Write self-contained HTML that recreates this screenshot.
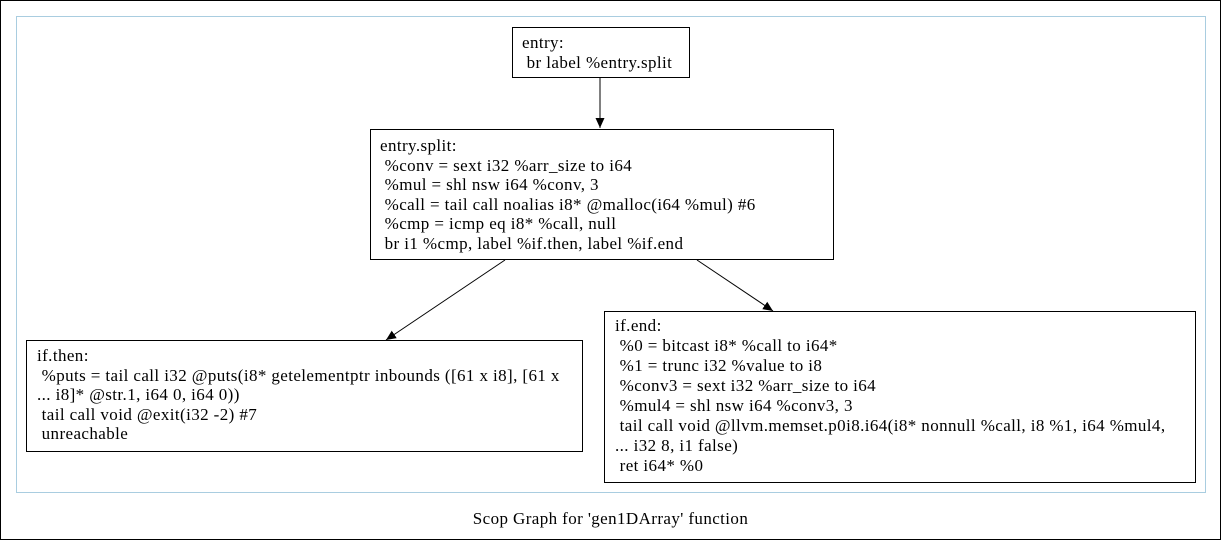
<!DOCTYPE html>
<html><head><style>
body{margin:0;width:1221px;height:540px;background:#fff;position:relative;overflow:hidden;font-family:"Liberation Serif",serif;font-size:17px;letter-spacing:0.4px;color:#000}
.b{position:absolute;border:1px solid #000;box-sizing:border-box;background:#fff}
.t{position:absolute;white-space:pre;line-height:19.5px}
</style></head><body>
<div style="position:absolute;left:0;top:0;width:1221px;height:540px;border:1px solid #000;box-sizing:border-box"></div>
<div style="position:absolute;left:16px;top:16px;width:1190px;height:477px;border:1px solid #a9cde0;box-sizing:border-box"></div>
<svg width="1221" height="540" style="position:absolute;left:0;top:0">
<defs><marker id="a" markerWidth="10" markerHeight="10" refX="10" refY="5" orient="auto" markerUnits="userSpaceOnUse"><path d="M0,0.5L10,5L0,9.5z" fill="#000"/></marker></defs>
<line x1="600" y1="77" x2="600" y2="128" stroke="#000" marker-end="url(#a)"/>
<line x1="505" y1="260" x2="386" y2="340" stroke="#000" marker-end="url(#a)"/>
<line x1="697" y1="260" x2="773" y2="311" stroke="#000" marker-end="url(#a)"/>
</svg>
<div class="b" style="left:512px;top:27px;width:178px;height:51px"></div>
<div class="t" style="left:522px;top:33px">entry:
 br label %entry.split</div>
<div class="b" style="left:370px;top:129px;width:464px;height:131px"></div>
<div class="t" style="left:380px;top:136px">entry.split:
 %conv = sext i32 %arr_size to i64
 %mul = shl nsw i64 %conv, 3
 %call = tail call noalias i8* @malloc(i64 %mul) #6
 %cmp = icmp eq i8* %call, null
 br i1 %cmp, label %if.then, label %if.end</div>
<div class="b" style="left:26px;top:340px;width:557px;height:112px"></div>
<div class="t" style="left:37px;top:346px">if.then:
 %puts = tail call i32 @puts(i8* getelementptr inbounds ([61 x i8], [61 x
... i8]* @str.1, i64 0, i64 0))
 tail call void @exit(i32 -2) #7
 unreachable</div>
<div class="b" style="left:604px;top:311px;width:592px;height:172px"></div>
<div class="t" style="left:615px;top:316px;line-height:20px">if.end:
 %0 = bitcast i8* %call to i64*
 %1 = trunc i32 %value to i8
 %conv3 = sext i32 %arr_size to i64
 %mul4 = shl nsw i64 %conv3, 3
 tail call void @llvm.memset.p0i8.i64(i8* nonnull %call, i8 %1, i64 %mul4,
... i32 8, i1 false)
 ret i64* %0</div>
<div class="t" style="left:0;width:1221px;text-align:center;top:509px">Scop Graph for 'gen1DArray' function</div>
</body></html>
